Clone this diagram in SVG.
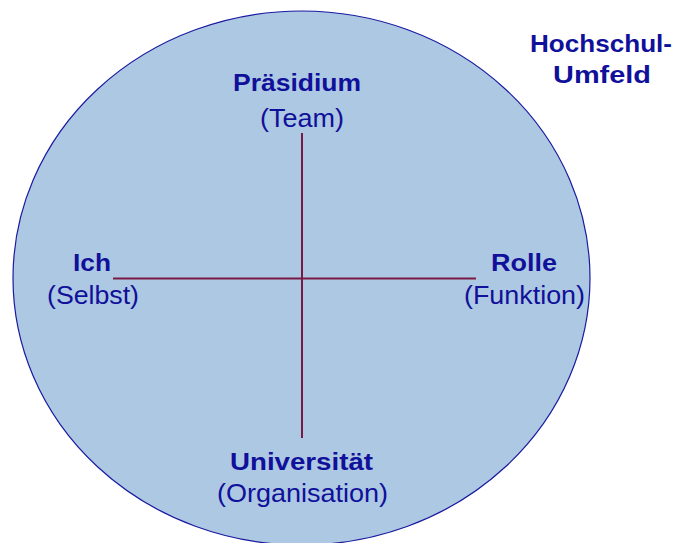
<svg xmlns="http://www.w3.org/2000/svg" width="677" height="543" viewBox="0 0 677 543">
<style>
text{font-family:"Liberation Sans",Arial,sans-serif;font-size:25px;fill:#10109a;text-anchor:middle}
.b{font-weight:bold;font-size:23.5px}
.ax{stroke:#7a1a44;stroke-width:2;fill:none}
</style>
<rect width="677" height="543" fill="#ffffff"/>
<g id="umfeld">
<ellipse cx="301.5" cy="278" rx="288.5" ry="267" fill="#adc8e2" stroke="#1a1aa0" stroke-width="1.2"/>
<text class="b" x="601" y="52" textLength="142" lengthAdjust="spacingAndGlyphs">Hochschul-</text>
<text class="b" x="602" y="83" textLength="98" lengthAdjust="spacingAndGlyphs">Umfeld</text>
</g>
<g id="connectors">
<line class="ax" x1="302" y1="133" x2="302" y2="438"/>
<line class="ax" x1="113" y1="278.5" x2="476" y2="278.5"/>
</g>
<g id="praesidium">
<text class="b" x="297" y="91" textLength="128" lengthAdjust="spacingAndGlyphs">Präsidium</text>
<text x="302" y="127" textLength="84" lengthAdjust="spacingAndGlyphs">(Team)</text>
</g>
<g id="ich">
<text class="b" x="92" y="271" textLength="38" lengthAdjust="spacingAndGlyphs">Ich</text>
<text x="93" y="303.5" textLength="92" lengthAdjust="spacingAndGlyphs">(Selbst)</text>
</g>
<g id="rolle">
<text class="b" x="524" y="271" textLength="66" lengthAdjust="spacingAndGlyphs">Rolle</text>
<text x="524.5" y="303.5" textLength="121" lengthAdjust="spacingAndGlyphs">(Funktion)</text>
</g>
<g id="universitaet">
<text class="b" x="301.5" y="469.5" textLength="143" lengthAdjust="spacingAndGlyphs">Universität</text>
<text x="302.5" y="501.5" textLength="171" lengthAdjust="spacingAndGlyphs">(Organisation)</text>
</g>
</svg>
